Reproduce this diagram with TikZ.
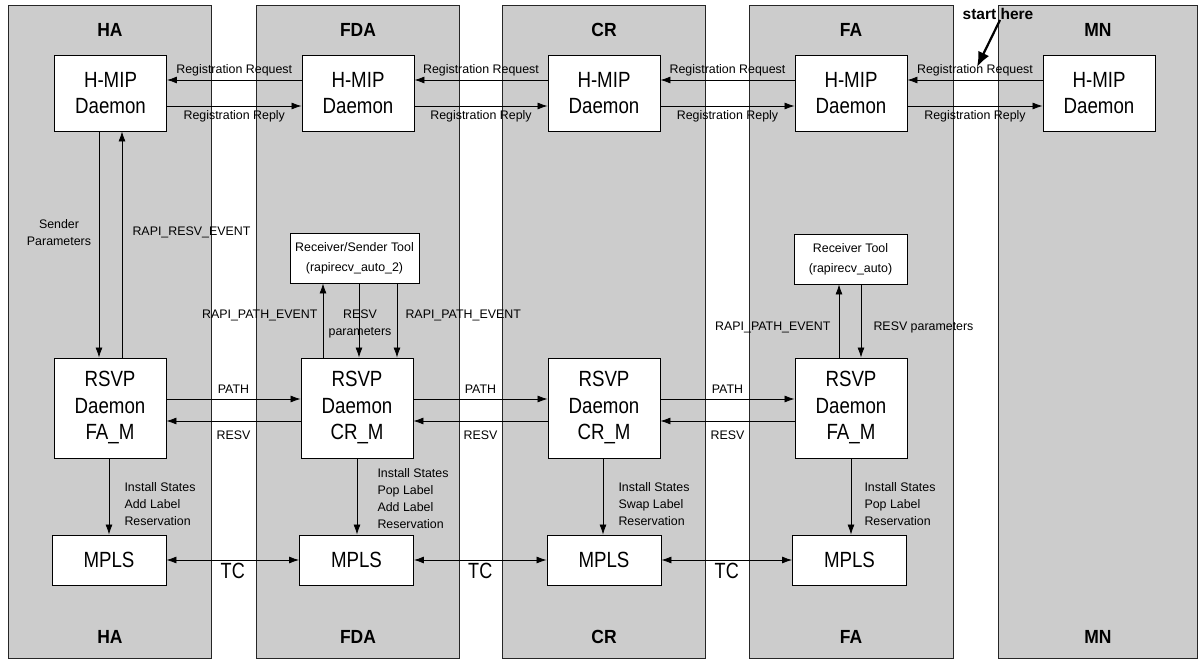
\documentclass[tikz,border=0pt]{standalone}
\usepackage{fontspec}
\setmainfont{Liberation Sans}
\newfontfamily\condfont{Liberation Sans}[FakeStretch=0.85]
\newfontfamily\tcfont{Liberation Sans}[FakeStretch=0.82]
\newfontfamily\ttlfont{Liberation Sans}[FakeStretch=0.92]
\usetikzlibrary{arrows.meta}
\begin{document}
\begin{tikzpicture}[x=1pt,y=-1pt,
  panel/.style={draw=black!85, line width=0.9pt, fill=black!20},
  box/.style={draw=black, line width=0.9pt, fill=white, align=center, inner sep=0pt},
  big/.style={font=\condfont\fontsize{22}{26.5}\selectfont},
  small/.style={font=\fontsize{12.4}{17}\selectfont},
  ttl/.style={font=\ttlfont\fontsize{19}{22}\selectfont\bfseries},
  conn/.style={line width=0.8pt, -{Latex[length=10pt,width=7pt]}},
  dconn/.style={line width=0.8pt, {Latex[length=10pt,width=7pt]}-{Latex[length=10pt,width=7pt]}},
  hmip/.style={box,big,minimum width=112pt,minimum height=76pt},
  rsvp/.style={box,big,minimum width=112pt,minimum height=100pt},
  mpls/.style={box,big,minimum width=114pt,minimum height=50pt},
  tool/.style={box,font=\fontsize{12.4}{20}\selectfont,minimum height=50pt},
]
\useasboundingbox (0,0) rectangle (1200,661);
\fill[white] (0,0) rectangle (1200,661);
% panels
\draw[panel] (8,5) rectangle (211,658);
\draw[panel] (256,5) rectangle (459,658);
\draw[panel] (502,5) rectangle (705,658);
\draw[panel] (749,5) rectangle (953,658);
\draw[panel] (998,5) rectangle (1197,658);
% titles
\node[ttl] (tHA) at (110,30) {HA};
\node[ttl] (tFDA) at (358,30) {FDA};
\node[ttl] (tCR) at (604,30) {CR};
\node[ttl] (tFA) at (851,30) {FA};
\node[ttl] (tMN) at (1098,30) {MN};
\node[ttl] (bHA) at (110,637) {HA};
\node[ttl] (bFDA) at (358,637) {FDA};
\node[ttl] (bCR) at (604,637) {CR};
\node[ttl] (bFA) at (851,637) {FA};
\node[ttl] (bMN) at (1098,637) {MN};
% H-MIP daemons
\node[hmip] (hHA) at (110.5,93) {H-MIP\\Daemon};
\node[hmip] (hFDA) at (358,93) {H-MIP\\Daemon};
\node[hmip] (hCR) at (604,93) {H-MIP\\Daemon};
\node[hmip] (hFA) at (851,93) {H-MIP\\Daemon};
\node[hmip] (hMN) at (1099,93) {H-MIP\\Daemon};
% RSVP daemons
\node[rsvp] (rHA) at (110,408) {RSVP\\Daemon\\FA\_M};
\node[rsvp] (rFDA) at (357,408) {RSVP\\Daemon\\CR\_M};
\node[rsvp] (rCR) at (604,408) {RSVP\\Daemon\\CR\_M};
\node[rsvp] (rFA) at (851,408) {RSVP\\Daemon\\FA\_M};
% MPLS
\node[mpls] (mHA) at (109,560) {MPLS};
\node[mpls] (mFDA) at (356.5,560) {MPLS};
\node[mpls] (mCR) at (604,560) {MPLS};
\node[mpls] (mFA) at (849.5,560) {MPLS};
% tools
\node[tool,minimum width=129pt] (tlFDA) at (354.5,258) {Receiver/Sender Tool\\(rapirecv\_auto\_2)};
\node[tool,minimum width=113pt] (tlFA) at (850.5,259) {Receiver Tool\\(rapirecv\_auto)};
% registration
\begin{scope}[small]
\draw[conn] (hFDA.west|-0,80) -- (hHA.east|-0,80) node[midway,yshift=10pt] (rq1) {Registration Request};
\draw[conn] (hCR.west|-0,80) -- (hFDA.east|-0,80) node[midway,yshift=10pt] (rq2) {Registration Request};
\draw[conn] (hFA.west|-0,80) -- (hCR.east|-0,80) node[midway,yshift=10pt] (rq3) {Registration Request};
\draw[conn] (hMN.west|-0,80) -- (hFA.east|-0,80) node[midway,yshift=10pt] (rq4) {Registration Request};
\draw[conn] (hHA.east|-0,106) -- (hFDA.west|-0,106) node[midway,yshift=-10pt] (rp1) {Registration Reply};
\draw[conn] (hFDA.east|-0,106) -- (hCR.west|-0,106) node[midway,yshift=-10pt] (rp2) {Registration Reply};
\draw[conn] (hCR.east|-0,106) -- (hFA.west|-0,106) node[midway,yshift=-10pt] (rp3) {Registration Reply};
\draw[conn] (hFA.east|-0,106) -- (hMN.west|-0,106) node[midway,yshift=-10pt] (rp4) {Registration Reply};
% PATH / RESV
\draw[conn] (rHA.east|-0,399) -- (rFDA.west|-0,399) node[midway,yshift=10pt] (pa1) {PATH};
\draw[conn] (rFDA.east|-0,399) -- (rCR.west|-0,399) node[midway,yshift=10pt] (pa2) {PATH};
\draw[conn] (rCR.east|-0,399) -- (rFA.west|-0,399) node[midway,yshift=10pt] (pa3) {PATH};
\draw[conn] (rFDA.west|-0,421) -- (rHA.east|-0,421) node[midway,yshift=-14pt] (rv1) {RESV};
\draw[conn] (rCR.west|-0,421) -- (rFDA.east|-0,421) node[midway,yshift=-14pt] (rv2) {RESV};
\draw[conn] (rFA.west|-0,421) -- (rCR.east|-0,421) node[midway,yshift=-14pt] (rv3) {RESV};
% HA vertical
\draw[conn] (hHA.south-|99,0) -- (rHA.north-|99,0);
\draw[conn] (rHA.north-|122,0) -- (hHA.south-|122,0);
\node[align=center] (lSP) at (59,233) {Sender\\Parameters};
\node[anchor=west] (lRRE) at (129,232) {RAPI\_RESV\_EVENT};
% FDA vertical
\draw[conn] (rFDA.north-|323,0) -- (tlFDA.south-|323,0);
\draw[conn] (tlFDA.south-|359,0) -- (rFDA.north-|359,0);
\draw[conn] (tlFDA.south-|397,0) -- (rFDA.north-|397,0);
\node[anchor=east] (lPE1) at (321,315) {RAPI\_PATH\_EVENT};
\node[align=center] (lRP1) at (360,323.5) {RESV\\parameters};
\node[anchor=west] (lPE2) at (402,315) {RAPI\_PATH\_EVENT};
% FA vertical
\draw[conn] (rFA.north-|839,0) -- (tlFA.south-|839,0);
\draw[conn] (tlFA.south-|861,0) -- (rFA.north-|861,0);
\node[anchor=east] (lPE3) at (834,327) {RAPI\_PATH\_EVENT};
\node[anchor=west] (lRP2) at (870,327) {RESV parameters};
% install
\draw[conn] (rHA.south-|109,0) -- (mHA.north-|109,0);
\draw[conn] (rFDA.south-|357,0) -- (mFDA.north-|357,0);
\draw[conn] (rCR.south-|603,0) -- (mCR.north-|603,0);
\draw[conn] (rFA.south-|851,0) -- (mFA.north-|851,0);
\node[anchor=west,align=left] (iHA) at (121,504) {Install States\\Add Label\\Reservation};
\node[anchor=west,align=left] (iFDA) at (374,499) {Install States\\Pop Label\\Add Label\\Reservation};
\node[anchor=west,align=left] (iCR) at (615,504) {Install States\\Swap Label\\Reservation};
\node[anchor=west,align=left] (iFA) at (861,504) {Install States\\Pop Label\\Reservation};
\end{scope}
% TC
\begin{scope}[font=\tcfont\fontsize{22}{24}\selectfont]
\draw[dconn] (mHA.east) -- (mFDA.west) node[midway,yshift=-11pt] (tc1) {TC};
\draw[dconn] (mFDA.east) -- (mCR.west) node[midway,yshift=-11pt] (tc2) {TC};
\draw[dconn] (mCR.east) -- (mFA.west) node[midway,yshift=-11pt] (tc3) {TC};
\end{scope}
% start here
\node[font=\fontsize{15.5}{18}\selectfont\bfseries] (sh) at (998,14) {start here};
\coordinate (shStart) at (1000,20);
\coordinate (shTip) at (977,67);
\draw[line width=2.2pt, -{Latex[length=15pt,width=12pt]}] (shStart) -- (shTip);
\end{tikzpicture}
\end{document}
